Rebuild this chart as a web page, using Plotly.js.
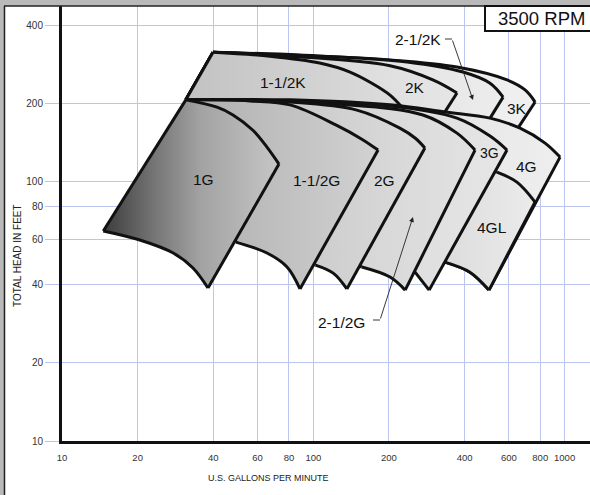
<!DOCTYPE html>
<html>
<head>
<meta charset="utf-8">
<script src="https://cdn.plot.ly/plotly-3.0.1.min.js"></script>
<style>html,body{margin:0;padding:0;background:#fff}#chart{width:590px;height:495px}</style>
</head>
<body>
<div id="chart"></div>
<script>
// ---- Data (U.S. gallons per minute, total head in feet) ----
const xTickVals = [10, 20, 40, 60, 80, 100, 200, 400, 600, 800, 1000];
const xTickText = ['10', '20', '40', '60', '80', '100', '200', '400', '600', '800', '1000'];
const yTickVals = [10, 20, 40, 60, 80, 100, 200, 400];
const yTickText = ['10', '20', '40', '60', '80', '100', '200', '400'];

// K series regions
const gpm_3K    = [39.9, 80.8, 202, 373, 590, 696, 763, 652, 140, 31.1];
const head_3K   = [316, 308, 295, 277, 247, 226, 203, 161, 85, 207];
const gpm_2_5K  = [39.9, 88.5, 236, 394, 505, 569, 505, 140, 31.1];
const head_2_5K = [316, 308, 290, 265, 240, 212, 176, 85, 207];
const gpm_2K    = [39.9, 80.8, 202, 299, 373, 334, 140, 31.1];
const head_2K   = [316, 305, 280, 247, 220, 186, 85, 207];
const gpm_1_5K  = [39.9, 67.2, 106, 140, 171, 202, 223, 140, 31.1];
const head_1_5K = [316, 305, 287, 265, 240, 216, 196, 85, 207];

// G series regions
const gpm_4G    = [31.1, 80.8, 202, 334, 505, 665, 836, 959, 500, 420, 334, 46.6];
const head_4G   = [207, 207, 198, 186, 176, 161, 141, 124.5, 38.2, 44.8, 49.0, 74.4];
const gpm_4GL   = [538, 646, 763, 500, 420, 334, 319, 461];
const head_4GL  = [109, 99.7, 83.5, 38.2, 44.8, 49.0, 85.0, 112.9];
const gpm_3G    = [31.1, 202, 373, 505, 590, 289, 254, 46.6];
const head_3G   = [207, 196, 176, 150, 132.5, 38.2, 44.8, 74.4];
const gpm_2_5G  = [31.1, 128, 273, 373, 440, 232, 202, 156, 46.6];
const head_2_5G = [207, 199, 181, 154, 132.5, 38.2, 42.9, 46.9, 74.4];
const gpm_2G    = [31.1, 80.8, 149, 221, 254, 278, 136, 120, 102, 46.6];
const head_2G   = [207, 203, 189, 161, 147.5, 135, 38.6, 44.4, 47.7, 74.4];
const gpm_1_5G  = [31.1, 56.0, 80.8, 124, 156, 181, 88.5, 78.6, 65.4, 49.2, 46.6];
const head_1_5G = [207, 205, 198, 165, 146, 132.5, 38.6, 46.9, 53.1, 58.5, 74.4];
const gpm_1G    = [31.1, 41.4, 47.9, 57.5, 65.4, 73.0, 38.1, 33.2, 27.7, 20.4, 14.6];
const head_1G   = [207, 194, 181, 158, 136, 117, 38.9, 46.5, 53.1, 59.6, 64.6];

// ---- Build ----
const FONT = 'Liberation Sans, Arial, Helvetica, sans-serif';
const GRID = '#bcc4f0';

// region: filled polygon, then its outline drawn edge by edge (curved edges smoothed)
function region(xs, ys, corners, c0, c1, scale) {
  const out = [{
    type: 'scatter', mode: 'none', x: xs, y: ys,
    fill: 'toself', fillcolor: c1,
    fillgradient: {type: 'horizontal', colorscale: scale || [[0, c0], [1, c1]]},
    hoverinfo: 'skip'
  }];
  const n = xs.length;
  for (let k = 0; k < corners.length; k++) {
    const a = corners[k];
    const b = corners[(k + 1) % corners.length];
    const sx = [], sy = [];
    let i = a;
    while (true) {
      sx.push(xs[i % n]); sy.push(ys[i % n]);
      if (i % n === b % n && sx.length > 1) break;
      i++;
    }
    out.push({
      type: 'scatter', mode: 'lines', x: sx, y: sy,
      line: {color: '#111', width: 3, shape: sx.length > 2 ? 'spline' : 'linear', smoothing: 1},
      hoverinfo: 'skip'
    });
  }
  return out;
}

const traces = [].concat(
  region(gpm_3K, head_3K, [0, 6, 7, 8, 9], '#dedede', '#f0f0f0'),
  region(gpm_2_5K, head_2_5K, [0, 5, 6, 7, 8], '#d6d6d6', '#ececec'),
  region(gpm_2K, head_2K, [0, 4, 5, 6, 7], '#cdcdcd', '#e6e6e6'),
  region(gpm_1_5K, head_1_5K, [0, 6, 7, 8], '#c2c2c2', '#dddddd'),
  region(gpm_4G, head_4G, [0, 7, 8, 10, 11], '#d4d4d4', '#eeeeee'),
  region(gpm_4GL, head_4GL, [0, 2, 3, 5, 6, 7], '#dcdcdc', '#ebebeb'),
  region(gpm_3G, head_3G, [0, 4, 5, 6, 7], '#cccccc', '#e6e6e6'),
  region(gpm_2_5G, head_2_5G, [0, 4, 5, 7, 8], '#c4c4c4', '#e2e2e2'),
  region(gpm_2G, head_2G, [0, 5, 6, 8, 9], '#bcbcbc', '#dcdcdc'),
  region(gpm_1_5G, head_1_5G, [0, 5, 6, 9, 10], '#aeaeae', '#d2d2d2'),
  region(gpm_1G, head_1G, [0, 5, 6, 10], '#3c3c3c', '#c6c6c6',
         [[0, '#3c3c3c'], [0.3, '#777777'], [0.55, '#a2a2a2'], [1, '#c6c6c6']])
);

// pixel -> paper helpers for layout decoration
const PL = 62, PW = 528, PB = 441, PH = 435;
const px = v => (v - PL) / PW;
const py = v => (PB - v) / PH;

function lab(text, x, y, size) {
  return {xref: 'paper', yref: 'paper', x: px(x), y: py(y), text: text, showarrow: false,
          xanchor: 'center', yanchor: 'middle', font: {family: FONT, size: size || 15.5, color: '#111'}};
}

const annotations = [
  lab('1G', 203, 179), lab('1-1/2G', 316, 181), lab('2G', 384, 180),
  lab('3G', 489, 153, 14), lab('4G', 526, 166), lab('4GL', 492, 227),
  lab('1-1/2K', 283, 82), lab('2K', 415, 88), lab('3K', 517, 108),
  lab('2-1/2K', 417.5, 39), lab('2-1/2G', 341.5, 322),
  {xref: 'paper', yref: 'paper', x: px(541), y: py(18), text: '3500 RPM', showarrow: false,
   xanchor: 'center', yanchor: 'middle', font: {family: FONT, size: 18.5, color: '#111'}},
  // arrows
  {xref: 'paper', yref: 'paper', x: px(473), y: py(100), ax: -21, ay: -61, axref: 'pixel', ayref: 'pixel',
   text: '', showarrow: true, arrowhead: 2, arrowsize: 1.1, arrowwidth: 0.9, arrowcolor: '#222', standoff: 0, startstandoff: 0},
  {xref: 'paper', yref: 'paper', x: px(413), y: py(217), ax: -33, ay: 103, axref: 'pixel', ayref: 'pixel',
   text: '', showarrow: true, arrowhead: 2, arrowsize: 1.1, arrowwidth: 0.9, arrowcolor: '#222', standoff: 0, startstandoff: 0},
  // axis titles
  {xref: 'paper', yref: 'paper', x: px(268), y: py(478), text: 'U.S. GALLONS PER MINUTE', showarrow: false,
   xanchor: 'center', yanchor: 'middle', font: {family: FONT, size: 9, color: '#222'}},
  {xref: 'paper', yref: 'paper', x: px(18), y: py(256), text: 'TOTAL HEAD IN FEET', showarrow: false, textangle: -90,
   xanchor: 'center', yanchor: 'middle', font: {family: FONT, size: 10, color: '#222'}}
];

const shapes = [
  // grey outer texture strips
  {type: 'rect', xref: 'paper', yref: 'paper', x0: px(-10), x1: px(4), y0: py(520), y1: py(-10), fillcolor: '#b9b9b9', line: {width: 0}, layer: 'above'},
  {type: 'rect', xref: 'paper', yref: 'paper', x0: px(-10), x1: px(600), y0: py(6), y1: py(-10), fillcolor: '#b9b9b9', line: {width: 0}, layer: 'above'},
  {type: 'line', xref: 'paper', yref: 'paper', x0: px(4.5), x1: px(4.5), y0: py(520), y1: py(6), line: {color: '#222', width: 1.5}},
  {type: 'line', xref: 'paper', yref: 'paper', x0: px(4), x1: px(600), y0: py(6), y1: py(6), line: {color: '#222', width: 1.5}},
  // RPM box
  {type: 'rect', xref: 'paper', yref: 'paper', x0: px(485), x1: px(600), y0: py(31), y1: py(6), fillcolor: '#fff', line: {color: '#111', width: 2}, layer: 'above'},
  // leader dashes
  {type: 'line', xref: 'paper', yref: 'paper', x0: px(445), x1: px(452), y0: py(39), y1: py(39), line: {color: '#222', width: 0.9}},
  {type: 'line', xref: 'paper', yref: 'paper', x0: px(373), x1: px(380), y0: py(320), y1: py(320), line: {color: '#222', width: 0.9}}
];

const layout = {
  width: 590, height: 495,
  margin: {l: PL, r: 0, t: 6, b: 54, pad: 0},
  paper_bgcolor: '#fff', plot_bgcolor: '#fff',
  showlegend: false,
  font: {family: FONT},
  xaxis: {
    type: 'log', range: [1, 3.101], tickvals: xTickVals, ticktext: xTickText,
    showgrid: true, gridcolor: GRID, gridwidth: 1, zeroline: false,
    showline: true, linecolor: '#111', linewidth: 3,
    ticks: 'outside', ticklen: 6, tickcolor: 'rgba(0,0,0,0)',
    tickfont: {family: FONT, size: 9.5, color: '#333'}, fixedrange: true
  },
  yaxis: {
    type: 'log', range: [1, 2.678], tickvals: yTickVals, ticktext: yTickText,
    showgrid: true, gridcolor: GRID, gridwidth: 1, zeroline: false,
    showline: true, linecolor: '#111', linewidth: 3,
    ticks: 'outside', ticklen: 14, tickcolor: GRID, tickwidth: 1,
    tickfont: {family: FONT, size: 10, color: '#333'}, fixedrange: true
  },
  annotations: annotations,
  shapes: shapes
};

Plotly.newPlot('chart', traces, layout, {staticPlot: true, displayModeBar: false});
</script>
</body>
</html>
